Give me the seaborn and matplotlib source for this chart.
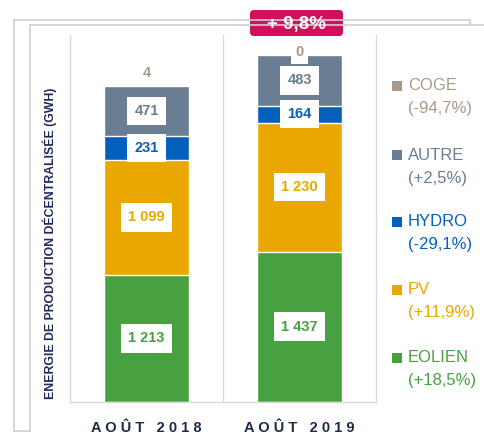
import pandas as pd
import matplotlib.pyplot as plt
import seaborn as sns
from matplotlib.patches import FancyBboxPatch
from matplotlib.lines import Line2D

# Data (GWh)
months = ['AOÛT 2018', 'AOÛT 2019']
sources = ['EOLIEN', 'PV', 'HYDRO', 'AUTRE', 'COGE']
eolien = [1213, 1437]
pv = [1099, 1230]
hydro = [231, 164]
autre = [471, 483]
coge = [4, 0]
evolution = ['(+18,5%)', '(+11,9%)', '(-29,1%)', '(+2,5%)', '(-94,7%)']
total_change = '+ 9,8%'

colors = {
    'EOLIEN': '#47A140',
    'PV': '#E9A700',
    'HYDRO': '#0460BF',
    'AUTRE': '#697D93',
    'COGE': '#A8998A',
}

sns.set_style('white')
plt.rcParams['font.family'] = ['Liberation Sans', 'DejaVu Sans']

# Build a long table with the cumulative tops of each segment
values = {'EOLIEN': eolien, 'PV': pv, 'HYDRO': hydro, 'AUTRE': autre, 'COGE': coge}
rows = []
for i, m in enumerate(months):
    cum = 0
    for s in sources:
        v = values[s][i]
        rows.append({'month': m, 'source': s, 'value': v, 'bottom': cum, 'top': cum + v})
        cum += v
df = pd.DataFrame(rows)

fig = plt.figure(figsize=(4.84, 4.34), dpi=100)
ax = fig.add_axes([70 / 484, 1 - 402 / 434, 306 / 484, 367 / 434])

# Draw stacked bars: tallest cumulative first, then each lower layer over it
for s in reversed(sources):
    sub = df[df['source'] == s]
    sns.barplot(data=sub, x='month', y='top', color=colors[s], saturation=1,
                width=0.56, ax=ax, order=months)

ax.set_ylim(0, 3505)
ax.set_xlim(-0.5, 1.5)
ax.set_yticks([])
ax.set_ylabel('')
ax.set_xlabel('')
ax.set_xticks(range(len(months)))
ax.set_xticklabels([' '.join(m) for m in months], fontsize=10.5, fontweight='bold',
                   color='#1F2A44')
ax.tick_params(axis='x', length=0, pad=14)

grid_c = '#D9D9D9'
for side in ['left', 'right', 'bottom']:
    ax.spines[side].set_color(grid_c)
    ax.spines[side].set_linewidth(1)
ax.spines['top'].set_visible(False)
ax.axvline(0.5, color=grid_c, lw=1)

# Segment value labels in white boxes
for _, r in df.iterrows():
    x = months.index(r['month'])
    label = f"{r['value']:,}".replace(',', ' ')
    if r['source'] == 'COGE':
        if r['value'] > 0:
            ax.annotate(label, (x, r['top']), xytext=(0, 9.5), textcoords='offset points',
                        ha='center', va='center', fontsize=10.5, fontweight='bold',
                        color=colors['COGE'])
        else:
            ax.annotate(label, (x, r['top']), xytext=(0, 2), textcoords='offset points',
                        ha='center', va='center', fontsize=10.5, fontweight='bold',
                        color=colors['COGE'],
                        bbox=dict(boxstyle='square,pad=0.3', fc='white', ec='none'))
        continue
    mid = r['bottom'] + r['value'] / 2
    ax.text(x, mid, label, ha='center', va='center', fontsize=10.5, fontweight='bold',
            color=colors[r['source']],
            bbox=dict(boxstyle='square,pad=0.5', fc='white', ec='none'))

# Y axis title
fig.text(50 / 484, 1 - 243 / 434, 'ENERGIE DE PRODUCTION DÉCENTRALISÉE (GWH)',
         rotation=90, ha='center', va='center', fontsize=8.8, fontweight='bold',
         color='#1F2A5A')

# Legend on the right
legend_y = {'COGE': 86, 'AUTRE': 155, 'HYDRO': 222, 'PV': 290, 'EOLIEN': 358}
for s, ev in zip(sources, evolution):
    y = legend_y[s]
    fig.patches.append(FancyBboxPatch((3.92, (434 - y - 5) / 100), 0.10, 0.10,
                                      boxstyle='square,pad=0', fc=colors[s], ec='none',
                                      transform=fig.dpi_scale_trans, figure=fig))
    fig.text(4.08, (434 - y) / 100, s, transform=fig.dpi_scale_trans,
             ha='left', va='center', fontsize=12, color=colors[s])
    fig.text(4.08, (434 - y - 23) / 100, ev, transform=fig.dpi_scale_trans,
             ha='left', va='center', fontsize=12, color=colors[s])

# Total change badge
fig.patches.append(FancyBboxPatch((2.50, (434 - 36) / 100), 0.93, 0.26,
                                  boxstyle='round,pad=0,rounding_size=0.04',
                                  fc='#D1105C', ec='none',
                                  transform=fig.dpi_scale_trans, figure=fig))
fig.text(2.965, (434 - 24) / 100, total_change, transform=fig.dpi_scale_trans,
         ha='center', va='center', fontsize=13.5, fontweight='bold', color='white')

# Light frame lines around the picture
frame_c = '#D0D0D0'
frame_lines = [
    ([0.14, 0.14], [0.03, 4.14]),
    ([0.14, 4.70], [4.14, 4.14]),
    ([4.70, 4.70], [4.14, 4.09]),
    ([0.30, 0.30], [0.03, 4.09]),
    ([0.30, 4.84], [4.09, 4.09]),
    ([0.14, 0.30], [0.03, 0.03]),
]
for xs, ys in frame_lines:
    fig.add_artist(Line2D(xs, ys, color=frame_c, lw=1.2, transform=fig.dpi_scale_trans))

fig.savefig('out.png', dpi=100)
